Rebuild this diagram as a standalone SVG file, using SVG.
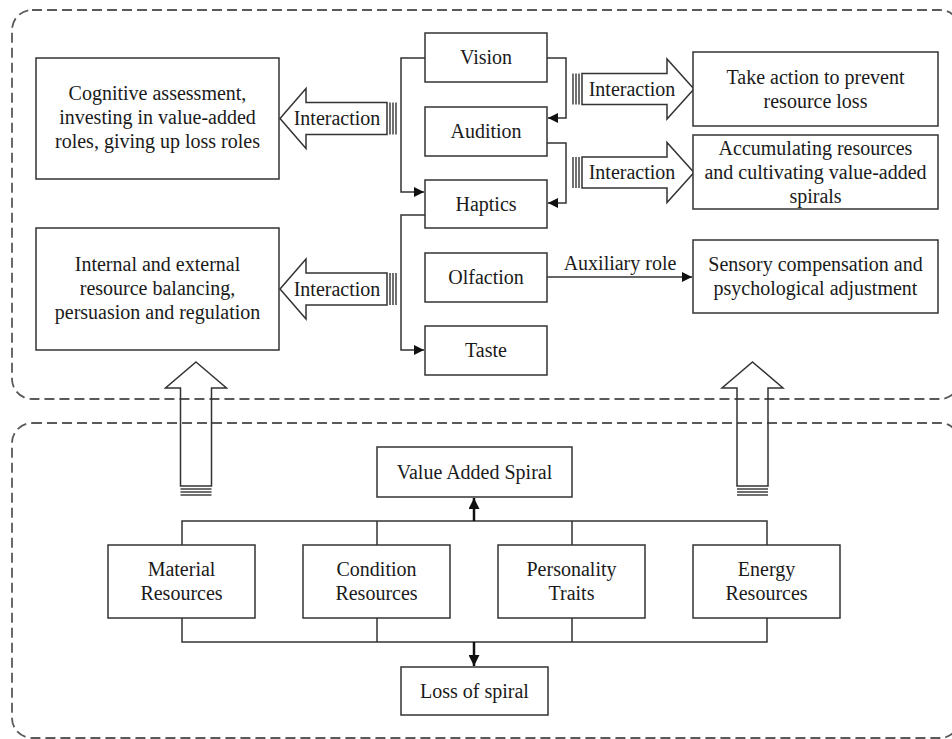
<svg xmlns="http://www.w3.org/2000/svg" width="952" height="739" viewBox="0 0 952 739">
  <style>
    .frame { fill: none; stroke: #5a5a5a; stroke-width: 1.8; stroke-dasharray: 10 5; }
    .box { fill: #ffffff; stroke: #333333; stroke-width: 1.5; }
    .txt { font-family: "Liberation Serif", "Times New Roman", serif; font-size: 20px; fill: #1a1a1a; text-anchor: middle; }
    .wire { fill: none; stroke: #333333; stroke-width: 1.5; }
    .bold { fill: none; stroke: #111111; stroke-width: 2.5; }
    .fat { fill: none; stroke: #333333; stroke-width: 1.5; stroke-linejoin: miter; }
    .stripe { stroke: #333333; stroke-width: 1.4; }
  </style>
  <defs>
    <marker id="tri" viewBox="0 0 10 10" refX="10" refY="5" markerWidth="11" markerHeight="10" markerUnits="userSpaceOnUse" orient="auto">
      <path d="M0,0 L10,5 L0,10 z" fill="#111111"/>
    </marker>
    <marker id="triB" viewBox="0 0 10 10" refX="10" refY="5" markerWidth="11" markerHeight="11" markerUnits="userSpaceOnUse" orient="auto">
      <path d="M0,0 L10,5 L0,10 z" fill="#111111"/>
    </marker>
  </defs>

  <!-- dashed grouping frames -->
  <g id="frames">
    <rect class="frame" x="12" y="10" width="948" height="389" rx="20" ry="20"/>
    <rect class="frame" x="12" y="423" width="948" height="315" rx="20" ry="20"/>
  </g>

  <!-- connectors -->
  <g id="connectors">
    <!-- left bracket: Vision -> Haptics, Haptics -> Taste -->
    <path class="wire" d="M425,58 H401 V192 H424" marker-end="url(#tri)"/>
    <path class="wire" d="M425,215 H401 V350 H424" marker-end="url(#tri)"/>
    <!-- right bracket: Vision -> Audition, Audition -> Haptics -->
    <path class="wire" d="M547,58 H566 V118 H548" marker-end="url(#tri)"/>
    <path class="wire" d="M547,143 H566 V203 H548" marker-end="url(#tri)"/>
    <!-- Olfaction -> Sensory compensation -->
    <path class="wire" d="M547,277 H692" marker-end="url(#tri)"/>
    <text class="txt" x="620" y="270">Auxiliary role</text>

    <!-- resource buses -->
    <path class="wire" d="M182,545 V521 H767 V545 M377,545 V521 M572,545 V521"/>
    <path class="wire" d="M182,618 V642 H767 V618 M377,618 V642 M572,618 V642"/>
    <path class="bold" d="M474,521 V498" marker-end="url(#triB)"/>
    <path class="bold" d="M474,642 V666" marker-end="url(#triB)"/>

    <!-- striped block arrows: senses -> left outcomes -->
    <g id="arrow-left-1">
      <polygon class="fat" points="280,118.5 306,88.5 306,102.5 387,102.5 387,134.5 306,134.5 306,148.5"/>
      <line class="stripe" x1="390" y1="102.5" x2="390" y2="134.5"/>
      <line class="stripe" x1="393" y1="102.5" x2="393" y2="134.5"/>
      <line class="stripe" x1="396" y1="102.5" x2="396" y2="134.5"/>
      <text class="txt" x="337" y="124.5">Interaction</text>
    </g>
    <g id="arrow-left-2">
      <polygon class="fat" points="280,289 306,259 306,273 387,273 387,305 306,305 306,319"/>
      <line class="stripe" x1="390" y1="273" x2="390" y2="305"/>
      <line class="stripe" x1="393" y1="273" x2="393" y2="305"/>
      <line class="stripe" x1="396" y1="273" x2="396" y2="305"/>
      <text class="txt" x="337" y="295.5">Interaction</text>
    </g>

    <!-- striped block arrows: senses -> right outcomes -->
    <g id="arrow-right-1">
      <polygon class="fat" points="694,89 667,59 667,73.5 582,73.5 582,104.5 667,104.5 667,119"/>
      <line class="stripe" x1="573" y1="73.5" x2="573" y2="104.5"/>
      <line class="stripe" x1="576" y1="73.5" x2="576" y2="104.5"/>
      <line class="stripe" x1="579" y1="73.5" x2="579" y2="104.5"/>
      <text class="txt" x="632" y="96">Interaction</text>
    </g>
    <g id="arrow-right-2">
      <polygon class="fat" points="694,172.5 667,142.5 667,157 582,157 582,188 667,188 667,202.5"/>
      <line class="stripe" x1="573" y1="157" x2="573" y2="188"/>
      <line class="stripe" x1="576" y1="157" x2="576" y2="188"/>
      <line class="stripe" x1="579" y1="157" x2="579" y2="188"/>
      <text class="txt" x="632" y="179">Interaction</text>
    </g>

    <!-- striped block arrows: resources -> upper panel -->
    <g id="arrow-up-1">
      <polygon class="fat" points="196,362 226.5,388 211.5,388 211.5,486 180.5,486 180.5,388 165.5,388"/>
      <line class="stripe" x1="180.5" y1="489" x2="211.5" y2="489"/>
      <line class="stripe" x1="180.5" y1="492" x2="211.5" y2="492"/>
      <line class="stripe" x1="180.5" y1="495" x2="211.5" y2="495"/>
    </g>
    <g id="arrow-up-2">
      <polygon class="fat" points="752.5,362 783,388 768,388 768,486 737,486 737,388 722,388"/>
      <line class="stripe" x1="737" y1="489" x2="768" y2="489"/>
      <line class="stripe" x1="737" y1="492" x2="768" y2="492"/>
      <line class="stripe" x1="737" y1="495" x2="768" y2="495"/>
    </g>
  </g>

  <!-- upper panel nodes -->
  <g id="cognitive">
    <rect class="box" x="36" y="58" width="243" height="121"/>
    <text class="txt" x="157.5" y="100">Cognitive assessment,</text>
    <text class="txt" x="157.5" y="124">investing in value-added</text>
    <text class="txt" x="157.5" y="148">roles, giving up loss roles</text>
  </g>
  <g id="balancing">
    <rect class="box" x="36" y="228" width="243" height="122"/>
    <text class="txt" x="157.5" y="271">Internal and external</text>
    <text class="txt" x="157.5" y="295">resource balancing,</text>
    <text class="txt" x="157.5" y="319">persuasion and regulation</text>
  </g>
  <g id="vision">
    <rect class="box" x="425" y="33" width="122" height="49"/>
    <text class="txt" x="486" y="64">Vision</text>
  </g>
  <g id="audition">
    <rect class="box" x="425" y="107" width="122" height="49"/>
    <text class="txt" x="486" y="138">Audition</text>
  </g>
  <g id="haptics">
    <rect class="box" x="425" y="180" width="122" height="48"/>
    <text class="txt" x="486" y="210.5">Haptics</text>
  </g>
  <g id="olfaction">
    <rect class="box" x="425" y="253" width="122" height="49"/>
    <text class="txt" x="486" y="284">Olfaction</text>
  </g>
  <g id="taste">
    <rect class="box" x="425" y="326" width="122" height="49"/>
    <text class="txt" x="486" y="357">Taste</text>
  </g>
  <g id="prevent-loss">
    <rect class="box" x="693" y="52" width="245" height="74"/>
    <text class="txt" x="815.5" y="83.5">Take action to prevent</text>
    <text class="txt" x="815.5" y="107.5">resource loss</text>
  </g>
  <g id="accumulating">
    <rect class="box" x="693" y="135" width="245" height="74"/>
    <text class="txt" x="815.5" y="154.5">Accumulating resources</text>
    <text class="txt" x="815.5" y="178.5">and cultivating value-added</text>
    <text class="txt" x="815.5" y="202.5">spirals</text>
  </g>
  <g id="compensation">
    <rect class="box" x="693" y="240" width="245" height="73"/>
    <text class="txt" x="815.5" y="271">Sensory compensation and</text>
    <text class="txt" x="815.5" y="295">psychological adjustment</text>
  </g>

  <!-- lower panel nodes -->
  <g id="value-added">
    <rect class="box" x="377" y="447" width="195" height="50"/>
    <text class="txt" x="474.5" y="478.5">Value Added Spiral</text>
  </g>
  <g id="material">
    <rect class="box" x="108" y="545" width="147" height="73"/>
    <text class="txt" x="181.5" y="576">Material</text>
    <text class="txt" x="181.5" y="600">Resources</text>
  </g>
  <g id="condition">
    <rect class="box" x="303" y="545" width="147" height="73"/>
    <text class="txt" x="376.5" y="576">Condition</text>
    <text class="txt" x="376.5" y="600">Resources</text>
  </g>
  <g id="personality">
    <rect class="box" x="498" y="545" width="147" height="73"/>
    <text class="txt" x="571.5" y="576">Personality</text>
    <text class="txt" x="571.5" y="600">Traits</text>
  </g>
  <g id="energy">
    <rect class="box" x="693" y="545" width="147" height="73"/>
    <text class="txt" x="766.5" y="576">Energy</text>
    <text class="txt" x="766.5" y="600">Resources</text>
  </g>
  <g id="loss">
    <rect class="box" x="401" y="667" width="147" height="48"/>
    <text class="txt" x="474.5" y="697.5">Loss of spiral</text>
  </g>
</svg>
